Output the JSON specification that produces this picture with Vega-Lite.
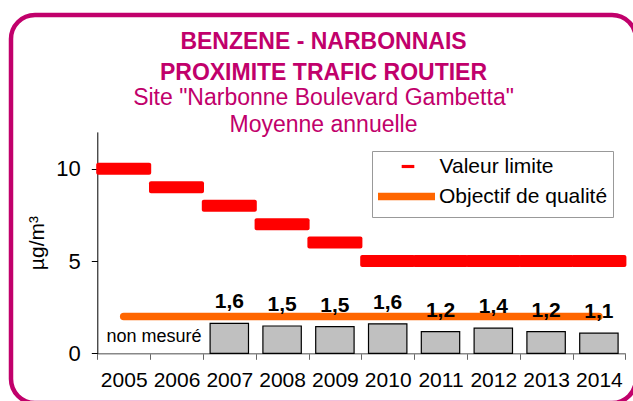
{
  "$schema": "https://vega.github.io/schema/vega-lite/v6.json",
  "width": 625,
  "height": 388,
  "autosize": {"type": "none"},
  "padding": {"left": 11, "top": 15, "right": -3, "bottom": -2},
  "background": "white",
  "config": {
    "font": "Liberation Sans",
    "view": {"stroke": "#c1006b", "strokeWidth": 4.5, "cornerRadius": 24, "fill": "white"}
  },
  "title": {
    "text": ["BENZENE - NARBONNAIS", "PROXIMITE TRAFIC ROUTIER"],
    "subtitle": ["Site \"Narbonne Boulevard Gambetta\"", "Moyenne annuelle"],
    "anchor": "middle",
    "color": "#c1006b",
    "subtitleColor": "#c1006b",
    "font": "Liberation Sans",
    "subtitleFont": "Liberation Sans",
    "fontSize": 23,
    "subtitleFontSize": 23,
    "fontWeight": "bold",
    "subtitleFontWeight": "normal",
    "lineHeight": 31,
    "subtitleLineHeight": 27,
    "subtitlePadding": 2,
    "offset": -122
  },
  "data": {
    "values": [
      {"annee": "2005", "limite": 10, "objectif": 2, "mesure": null, "etiquette": ""},
      {"annee": "2006", "limite": 9, "objectif": 2, "mesure": null, "etiquette": ""},
      {"annee": "2007", "limite": 8, "objectif": 2, "mesure": 1.62, "etiquette": "1,6"},
      {"annee": "2008", "limite": 7, "objectif": 2, "mesure": 1.48, "etiquette": "1,5"},
      {"annee": "2009", "limite": 6, "objectif": 2, "mesure": 1.45, "etiquette": "1,5"},
      {"annee": "2010", "limite": 5, "objectif": 2, "mesure": 1.6, "etiquette": "1,6"},
      {"annee": "2011", "limite": 5, "objectif": 2, "mesure": 1.18, "etiquette": "1,2"},
      {"annee": "2012", "limite": 5, "objectif": 2, "mesure": 1.36, "etiquette": "1,4"},
      {"annee": "2013", "limite": 5, "objectif": 2, "mesure": 1.17, "etiquette": "1,2"},
      {"annee": "2014", "limite": 5, "objectif": 2, "mesure": 1.09, "etiquette": "1,1"}
    ]
  },
  "encoding": {
    "x": {
      "field": "annee",
      "type": "nominal",
      "scale": {"type": "band", "paddingInner": 0, "paddingOuter": 0, "range": [86.3, 614.3]},
      "axis": {
        "title": null,
        "labelAngle": 0,
        "offset": -49.7,
        "tickBand": "extent",
        "domainColor": "#888888",
        "domainWidth": 1.5,
        "tickColor": "#666666",
        "tickSize": 6,
        "labelFontSize": 21,
        "labelColor": "black",
        "labelPadding": 10,
        "labelFont": "Liberation Sans"
      }
    }
  },
  "layer": [
    {
      "mark": {"type": "bar", "width": {"band": 0.727}, "fill": "#c0c0c0", "stroke": "black", "strokeWidth": 1.2},
      "encoding": {
        "y": {
          "field": "mesure",
          "type": "quantitative",
          "scale": {"domain": [0, 12], "range": [338.3, 116.9], "nice": false},
          "axis": {
            "title": "µg/m³",
            "titleFontSize": 21,
            "titleFontWeight": "normal",
            "titleColor": "black",
            "titleFont": "Liberation Sans",
            "titlePadding": 8,
            "values": [0, 5, 10],
            "offset": -86.3,
            "grid": false,
            "domainColor": "black",
            "tickColor": "black",
            "tickSize": 6,
            "labelFontSize": 22,
            "labelColor": "black",
            "labelPadding": 11,
            "labelFont": "Liberation Sans"
          }
        }
      }
    },
    {
      "mark": {"type": "tick", "thickness": 12, "size": 55, "cornerRadius": 2, "opacity": 1},
      "encoding": {
        "y": {"field": "limite", "type": "quantitative"},
        "fill": {
          "datum": "Valeur limite",
          "scale": {"domain": ["Valeur limite"], "range": ["#ff0000"]},
          "legend": {
            "orient": "none",
            "legendX": 386.5,
            "legendY": 141,
            "title": null,
            "symbolType": "M-1,-0.25H1V0.25H-1Z",
            "symbolSize": 160,
            "symbolOpacity": 1,
            "labelFontSize": 21,
            "labelFont": "Liberation Sans",
            "labelColor": "black",
            "labelOffset": 21,
            "labelLimit": 300,
            "padding": 0
          }
        }
      }
    },
    {
      "mark": {"type": "line", "strokeWidth": 7.5, "strokeCap": "round", "opacity": 1},
      "encoding": {
        "y": {"field": "objectif", "type": "quantitative"},
        "color": {
          "datum": "Objectif de qualité",
          "scale": {"domain": ["Objectif de qualité"], "range": ["#ff6600"]},
          "legend": {
            "orient": "none",
            "legendX": 361,
            "legendY": 136,
            "title": "\u00a0\u00a0\u00a0\u00a0\u00a0\u00a0\u00a0\u00a0\u00a0\u00a0\u00a0\u00a0\u00a0\u00a0\u00a0\u00a0\u00a0\u00a0\u00a0\u00a0\u00a0\u00a0\u00a0\u00a0\u00a0\u00a0\u00a0\u00a0\u00a0\u00a0\u00a0\u00a0\u00a0\u00a0\u00a0\u00a0\u00a0\u00a0\u00a0\u00a0\u00a0\u00a0",
            "titleFontSize": 21,
            "titleFont": "Liberation Sans",
            "titleFontWeight": "normal",
            "titlePadding": 9,
            "titleLimit": 500,
            "symbolType": "M-1.9,0H9.5",
            "symbolSize": 100,
            "symbolStrokeWidth": 7.5,
            "symbolOpacity": 1,
            "labelFontSize": 21,
            "labelFont": "Liberation Sans",
            "labelColor": "black",
            "labelOffset": 41,
            "labelLimit": 300,
            "padding": 5,
            "strokeColor": "#999999"
          }
        }
      }
    },
    {
      "mark": {"type": "text", "fontWeight": "bold", "fontSize": 21, "baseline": "alphabetic", "dy": -15, "font": "Liberation Sans", "color": "black"},
      "encoding": {
        "y": {"field": "mesure", "type": "quantitative"},
        "text": {"field": "etiquette"}
      }
    },
    {
      "data": {"values": [{"annee": "2006", "note": "non mesuré"}]},
      "mark": {"type": "text", "fontSize": 18, "baseline": "alphabetic", "dy": -11, "dx": 4, "align": "center", "font": "Liberation Sans", "color": "black"},
      "encoding": {
        "x": {"field": "annee", "type": "nominal", "bandPosition": 0},
        "y": {"datum": 0, "type": "quantitative"},
        "text": {"field": "note"}
      }
    }
  ]
}
